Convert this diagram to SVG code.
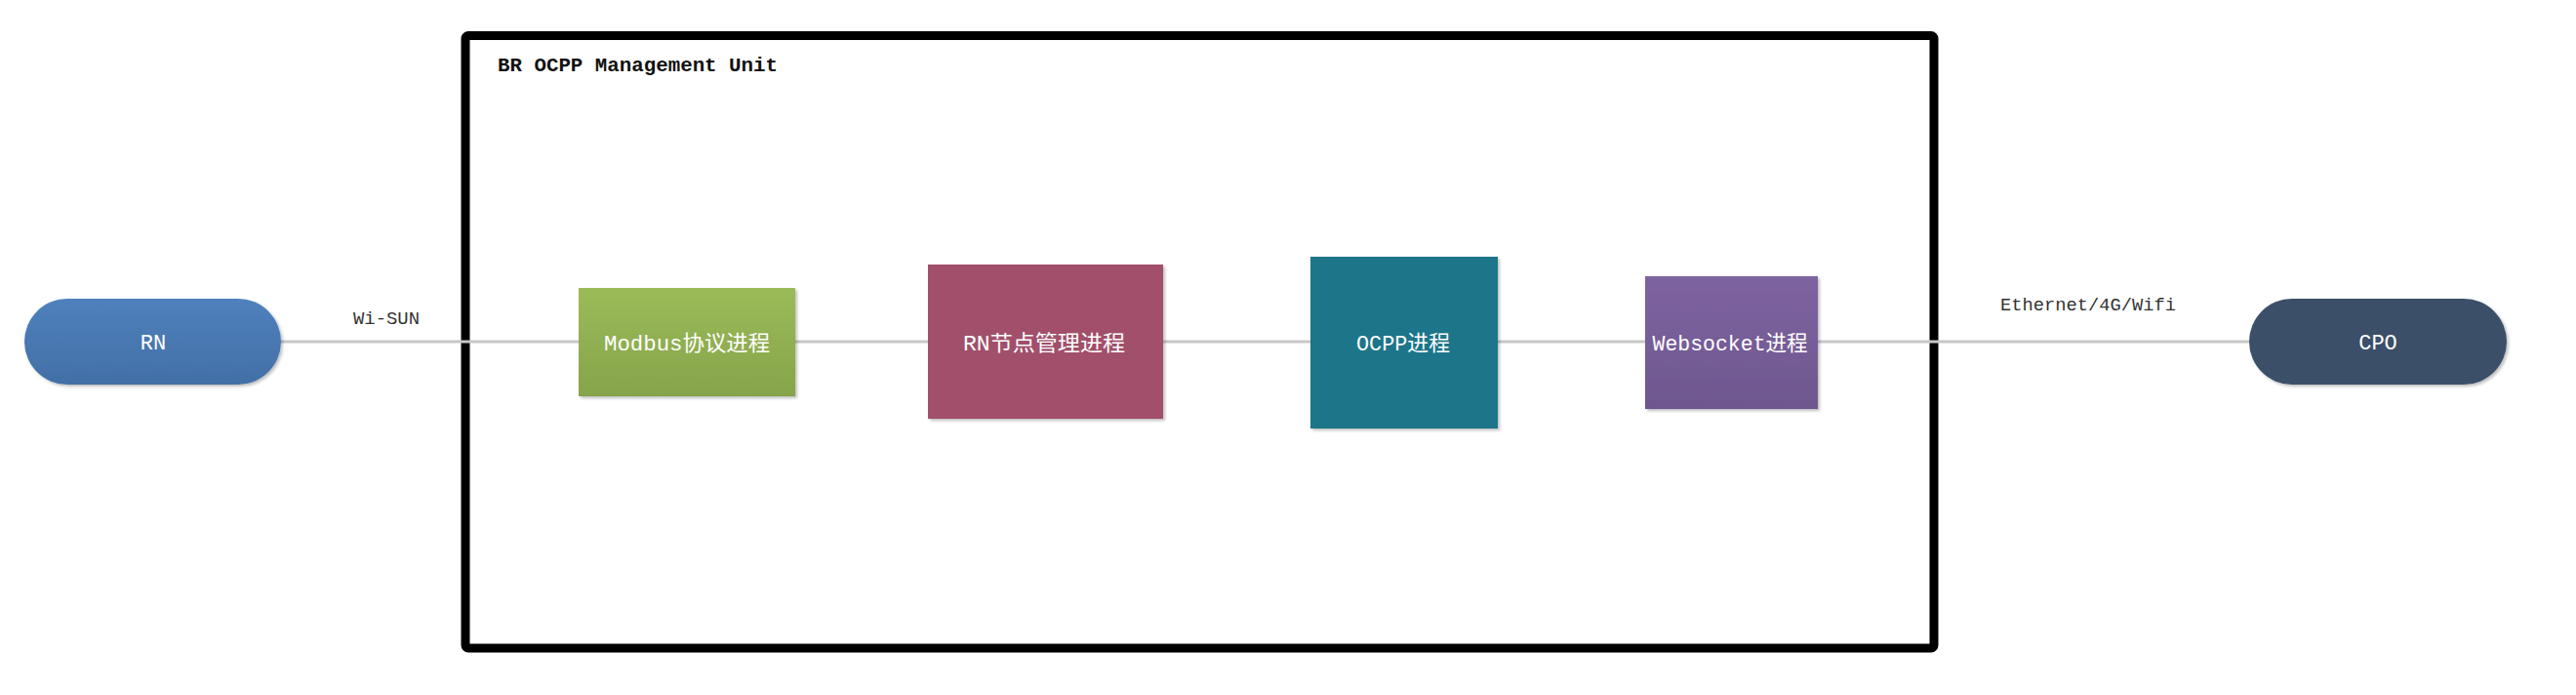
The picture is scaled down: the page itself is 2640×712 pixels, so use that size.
<svg xmlns="http://www.w3.org/2000/svg" width="2640" height="712" viewBox="0 0 2640 712">
<style>
.lbl{font-family:"Liberation Mono","Noto Sans CJK SC",monospace;font-size:22px;fill:#ffffff;text-anchor:middle}
.edge{font-family:"Liberation Mono","Noto Sans CJK SC",monospace;font-size:19px;fill:#333333}
.conn{stroke:#c8c8c8;stroke-width:3;fill:none}
</style>
<defs>
<linearGradient id="gBlue" x1="0" y1="0" x2="0" y2="1"><stop offset="0" stop-color="#4f81bd"/><stop offset="1" stop-color="#426fa6"/></linearGradient>
<linearGradient id="gGreen" x1="0" y1="0" x2="0" y2="1"><stop offset="0" stop-color="#9bbb59"/><stop offset="1" stop-color="#86a44a"/></linearGradient>
<linearGradient id="gPurple" x1="0" y1="0" x2="0" y2="1"><stop offset="0" stop-color="#7e63a1"/><stop offset="1" stop-color="#6e578e"/></linearGradient>
<filter id="sh" x="-10%" y="-10%" width="130%" height="130%"><feDropShadow dx="2" dy="2" stdDeviation="1.5" flood-color="#000" flood-opacity="0.25"/></filter>
</defs>
<rect width="2640" height="712" fill="#ffffff"/>
<g id="container">
<rect x="477" y="36.5" width="1505" height="627.5" rx="3" fill="none" stroke="#000" stroke-width="9"/>
<text x="510" y="73" font-family="Liberation Mono, monospace" font-size="21" font-weight="bold" fill="#111" textLength="287" lengthAdjust="spacingAndGlyphs">BR OCPP Management Unit</text>
</g>
<g id="connectors">
<line class="conn" x1="288" y1="350" x2="593" y2="350"/>
<line class="conn" x1="815" y1="350" x2="951" y2="350"/>
<line class="conn" x1="1192" y1="350" x2="1343" y2="350"/>
<line class="conn" x1="1535" y1="350" x2="1686" y2="350"/>
<line class="conn" x1="1863" y1="350" x2="2305" y2="350"/>
<text class="edge" x="362" y="332" textLength="68" lengthAdjust="spacingAndGlyphs">Wi-SUN</text>
<text class="edge" x="2050" y="318" textLength="180" lengthAdjust="spacingAndGlyphs">Ethernet/4G/Wifi</text>
</g>
<g id="rn">
<rect x="25" y="306" width="263" height="88" rx="44" fill="url(#gBlue)" filter="url(#sh)"/>
<text class="lbl" x="157" y="358" font-size="21">RN</text>
</g>
<g id="modbus">
<rect x="593" y="295" width="222" height="111" fill="url(#gGreen)" filter="url(#sh)"/>
<text class="lbl" x="704" y="359" textLength="170" lengthAdjust="spacingAndGlyphs">Modbus协议进程</text>
</g>
<g id="rnmgr">
<rect x="951" y="271" width="241" height="158" fill="#a1506a" filter="url(#sh)"/>
<text class="lbl" x="1070" y="359" textLength="166" lengthAdjust="spacingAndGlyphs">RN节点管理进程</text>
</g>
<g id="ocpp">
<rect x="1343" y="263" width="192" height="176" fill="#1f7489" filter="url(#sh)"/>
<text class="lbl" x="1438" y="359" textLength="96" lengthAdjust="spacingAndGlyphs">OCPP进程</text>
</g>
<g id="websocket">
<rect x="1686" y="283" width="177" height="136" fill="url(#gPurple)" filter="url(#sh)"/>
<text class="lbl" x="1773" y="359" textLength="159" lengthAdjust="spacingAndGlyphs">Websocket进程</text>
</g>
<g id="cpo">
<rect x="2305" y="306" width="264" height="88" rx="44" fill="#3b5069" filter="url(#sh)"/>
<text class="lbl" x="2437" y="358" font-size="21">CPO</text>
</g>
</svg>
